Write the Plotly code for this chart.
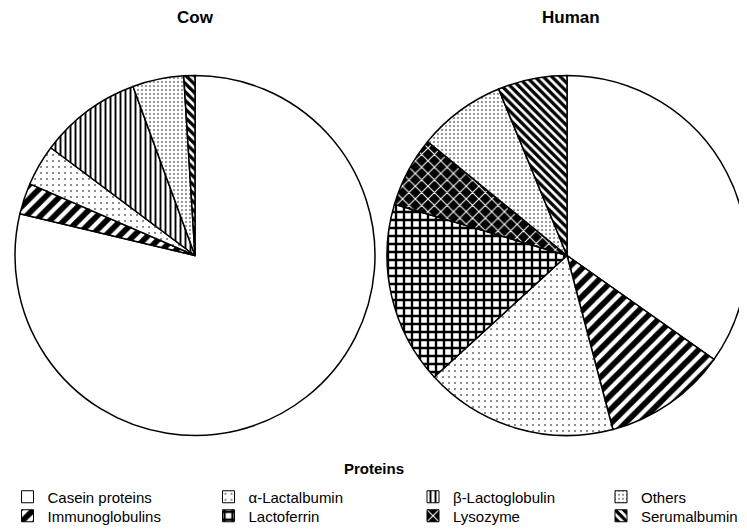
import plotly.graph_objects as go

# ---------------- data ----------------
legend_order = ["Casein proteins", "α-Lactalbumin", "β-Lactoglobulin", "Others",
                "Immunoglobulins", "Lactoferrin", "Lysozyme", "Serumalbumin"]

cow_labels = ["Casein proteins", "Immunoglobulins", "α-Lactalbumin",
              "β-Lactoglobulin", "Others", "Serumalbumin"]
cow_values = [78.8, 2.8, 3.7, 9.2, 4.6, 1.0]

human_labels = ["Casein proteins", "Immunoglobulins", "α-Lactalbumin",
                "Lactoferrin", "Lysozyme", "Others", "Serumalbumin"]
human_values = [34.8, 11.1, 17.3, 16.4, 6.3, 7.9, 6.2]

# ---------------- styles ----------------
styles = {
    "Casein proteins": dict(bg="white", fg="black", shape="", size=8, sol=0.3),
    "Immunoglobulins": dict(bg="white", fg="black", shape="/", size=10, sol=0.58),
    "α-Lactalbumin": dict(bg="white", fg="black", shape=".", size=6, sol=0.06),
    "β-Lactoglobulin": dict(bg="white", fg="black", shape="|", size=5, sol=0.38),
    "Others": dict(bg="white", fg="black", shape=".", size=4, sol=0.11),
    "Lactoferrin": dict(bg="white", fg="black", shape="+", size=8, sol=0.5),
    "Lysozyme": dict(bg="black", fg="white", shape="x", size=9, sol=0.22),
    "Serumalbumin": dict(bg="white", fg="black", shape="\\", size=6, sol=0.55),
}

FONT = "Liberation Sans, Arial, sans-serif"
# the page body adds an 8 px offset; build the figure for the visible area
OFF = 8
W, H = 747 - OFF, 529 - OFF


def px(x):
    return (x - OFF) / W


def py(y):
    return 1 - (y - OFF) / H


def marker_for(labels, lw=1.5):
    return dict(
        colors=[styles[l]["bg"] for l in labels],
        line=dict(color="black", width=lw),
        pattern=dict(
            shape=[styles[l]["shape"] for l in labels],
            fgcolor=[styles[l]["fg"] for l in labels],
            bgcolor=[styles[l]["bg"] for l in labels],
            size=[styles[l]["size"] for l in labels],
            solidity=[styles[l]["sol"] for l in labels],
            fillmode="replace",
        ),
    )


R = 180
CY = 255.5


def dom(cx):
    return dict(x=[px(cx - R), px(cx + R)], y=[py(CY + R), py(CY - R)])


fig = go.Figure()

fig.add_trace(go.Pie(labels=cow_labels, values=cow_values, sort=False,
                     direction="clockwise", rotation=0, textinfo="none",
                     hoverinfo="skip", showlegend=False,
                     marker=marker_for(cow_labels), domain=dom(195)))
fig.add_trace(go.Pie(labels=human_labels, values=human_values, sort=False,
                     direction="clockwise", rotation=0, textinfo="none",
                     hoverinfo="skip", showlegend=False,
                     marker=marker_for(human_labels), domain=dom(567)))

# legend entries: one tiny dummy pie per label, each in its own legend
col_x = [7.5, 208.5, 413, 601]
row_y = [497, 516]
legend_layouts = {}
for i, lab in enumerate(legend_order):
    name = "legend" if i == 0 else f"legend{i + 1}"
    fig.add_trace(go.Pie(labels=[lab], values=[1], sort=False, textinfo="none",
                         hoverinfo="skip", showlegend=True, legend=name,
                         marker=marker_for([lab], lw=1),
                         domain=dict(x=[0.9995, 1.0], y=[0.0, 0.0005])))
    legend_layouts[name] = dict(
        x=px(col_x[i % 4]), xanchor="left",
        y=py(row_y[i // 4]), yanchor="middle",
        orientation="h", bgcolor="rgba(0,0,0,0)",
        font=dict(family=FONT, size=15, color="black"),
        itemwidth=30, itemclick=False, itemdoubleclick=False,
    )

fig.update_layout(
    width=W, height=H,
    margin=dict(l=0, r=0, t=0, b=0, autoexpand=False),
    paper_bgcolor="white",
    plot_bgcolor="white",
    font=dict(family=FONT, color="black"),
    annotations=[
        dict(text="<b>Cow</b>", x=px(195), y=py(17), xref="paper", yref="paper",
             showarrow=False, xanchor="center", yanchor="middle",
             font=dict(family=FONT, size=17, color="black")),
        dict(text="<b>Human</b>", x=px(571), y=py(17), xref="paper", yref="paper",
             showarrow=False, xanchor="center", yanchor="middle",
             font=dict(family=FONT, size=17, color="black")),
        dict(text="<b>Proteins</b>", x=px(374), y=py(468), xref="paper", yref="paper",
             showarrow=False, xanchor="center", yanchor="middle",
             font=dict(family=FONT, size=15, color="black")),
    ],
    **legend_layouts,
)

fig.write_html("out.html")
